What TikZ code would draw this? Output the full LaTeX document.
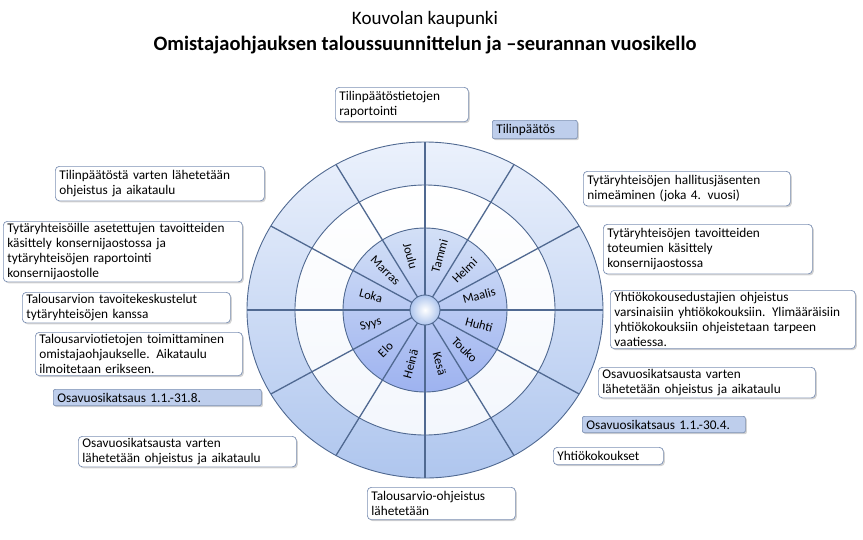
\documentclass[tikz,border=0pt]{standalone}
\usepackage{fontspec}
\setmainfont{Carlito}
\usetikzlibrary{shadows}
\definecolor{spoke}{RGB}{80,105,145}
\definecolor{ringA}{RGB}{235,241,252}
\definecolor{ringB}{RGB}{175,198,238}
\definecolor{boxline}{RGB}{125,145,180}
\definecolor{boxblue}{RGB}{190,206,236}
\begin{document}
\begin{tikzpicture}[x=1pt,y=-1pt,
  info/.style={draw=boxline,line width=0.7pt,rounded corners=4pt,fill=white,
    drop shadow={shadow xshift=1.5pt,shadow yshift=-1.5pt,opacity=0.35},
    font=\fontsize{13.3}{15}\selectfont,align=left,anchor=north west,inner sep=4pt},
  bluebox/.style={info,fill=boxblue,rounded corners=2pt,inner ysep=3.5pt},
  month/.style={font=\fontsize{12.5}{14}\selectfont,inner sep=0pt}]
\useasboundingbox (0,0) rectangle (863,539);
\node[font=\fontsize{19}{22}\selectfont] (t1) at (425,19) {Kouvolan kaupunki};
\node[font=\bfseries\fontsize{20.5}{23}\selectfont] (t2) at (425,45) {Omistajaohjauksen taloussuunnittelun ja –seurannan vuosikello};
\begin{scope}[shift={(425,310)},yscale=-1]
  \shade[top color=ringA,bottom color=ringB,draw=spoke,line width=0.9pt] (0,0) ellipse (178 and 168);
  \shade[top color=white,bottom color=white!85!ringB,draw=spoke,line width=0.9pt] (0,0) ellipse (130 and 125);
  \shade[top color=ringA!60!ringB,bottom color=ringB!90!blue,draw=spoke,line width=0.9pt] (0,0) ellipse (82 and 82);
  \foreach \a in {0,30,...,330}
    \draw[spoke,line width=1.3pt] (\a:15) -- (\a:178 and 168);
  \shade[inner color=white,outer color=ringB,draw=spoke,line width=0.9pt] (0,0) circle (15);
  \foreach \m/\a in {Tammi/75,Helmi/45,Maalis/15,Huhti/-15,Touko/-45,Kesä/-75}
    \node[month,rotate=\a] (m\m) at (\a:56) {\m};
  \foreach \m/\a in {Heinä/-105,Elo/-135,Syys/-165,Loka/165,Marras/135,Joulu/105}
    \node[month,rotate=\a-180] (m\m) at (\a:56) {\m};
\end{scope}
\node[info,text width=125pt] (b1) at (335,87) {Tilinpäätöstietojen\\raportointi};
\node[bluebox,text width=77pt] (b2) at (492,120) {Tilinpäätös};
\node[info,text width=201pt] (b3) at (55,166) {Tilinpäätöstä varten lähetetään\\ohjeistus ja aikataulu};
\node[info,text width=199pt] (b4) at (583,171) {Tytäryhteisöjen hallitusjäsenten\\nimeäminen (joka 4. vuosi)};
\node[info,text width=231pt,inner ysep=2pt] (b5) at (3,221) {Tytäryhteisöille asetettujen tavoitteiden\\käsittely konsernijaostossa ja\\tytäryhteisöjen raportointi\\konsernijaostolle};
\node[info,text width=201pt] (b6) at (603,224) {Tytäryhteisöjen tavoitteiden\\toteumien käsittely\\konsernijaostossa};
\node[info,text width=200pt,inner ysep=2pt] (b7) at (22,292) {Talousarvion tavoitekeskustelut\\tytäryhteisöjen kanssa};
\node[info,text width=237pt,inner ysep=2pt] (b8) at (610,290) {Yhtiökokousedustajien ohjeistus\\varsinaisiin yhtiökokouksiin. Ylimääräisiin\\yhtiökokouksiin ohjeistetaan tarpeen\\vaatiessa.};
\node[info,text width=199pt,inner ysep=2pt] (b9) at (35,332) {Talousarviotietojen toimittaminen\\omistajaohjaukselle. Aikataulu\\ilmoitetaan erikseen.};
\node[info,text width=209pt,inner ysep=2pt] (b10) at (598,367) {Osavuosikatsausta varten\\lähetetään ohjeistus ja aikataulu};
\node[bluebox,text width=200pt] (b11) at (53,389) {Osavuosikatsaus 1.1.-31.8.};
\node[bluebox,text width=155pt] (b12) at (582,416) {Osavuosikatsaus 1.1.-30.4.};
\node[info,text width=210pt,inner ysep=2pt] (b13) at (78,436) {Osavuosikatsausta varten\\lähetetään ohjeistus ja aikataulu};
\node[info,text width=102pt] (b14) at (553,447) {Yhtiökokoukset};
\node[info,text width=140pt] (b15) at (367,487) {Talousarvio-ohjeistus\\lähetetään};
\end{tikzpicture}
\end{document}
